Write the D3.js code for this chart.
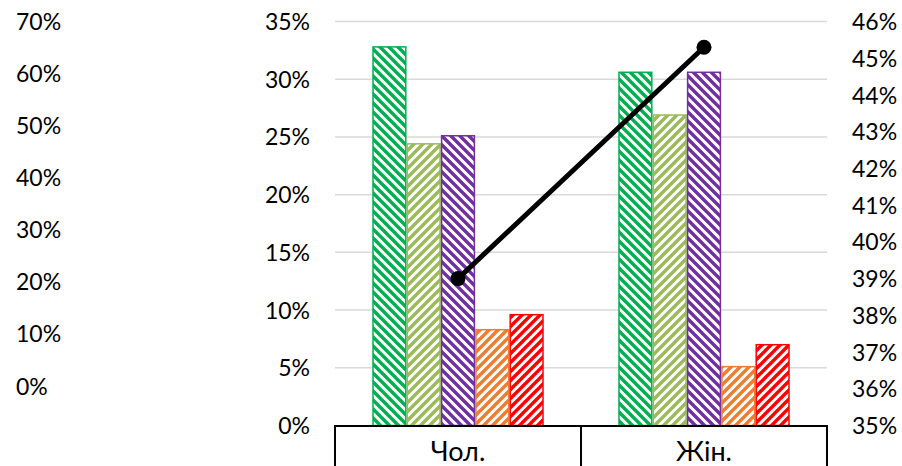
<!DOCTYPE html>
<html>
<head>
<meta charset="utf-8">
<script src="https://cdn.jsdelivr.net/npm/d3@7"></script>
<style>
  html, body { margin: 0; padding: 0; background: #ffffff; }
  svg { display: block; font-family: Lato, "Open Sans", sans-serif; }
</style>
</head>
<body>
<svg id="chart" width="902" height="466"></svg>
<script>
// ---- data ----
const categories = ["Чол.", "Жін."];
const seriesNames = ["s1", "s2", "s3", "s4", "s5"];
const series1 = [32.8, 30.6];
const series2 = [24.4, 26.9];
const series3 = [25.1, 30.6];
const series4 = [8.3, 5.1];
const series5 = [9.6, 7.0];
const lineValues = [39.0, 45.3];
const leftTicks = [0, 10, 20, 30, 40, 50, 60, 70];
const midTicks = [0, 5, 10, 15, 20, 25, 30, 35];
const rightTicks = [35, 36, 37, 38, 39, 40, 41, 42, 43, 44, 45, 46];

const seriesValues = [series1, series2, series3, series4, series5];
const seriesColors = ["#00b050", "#9bbb59", "#7030a0", "#ed7d31", "#ff0000"];
const seriesDir = ["down", "up", "down", "up", "up"];

const svg = d3.select("#chart");
const plotLeft = 335, plotRight = 827, plotTop = 21.5, plotBottom = 425.5;

// scales
const x = d3.scaleBand().domain(categories).range([plotLeft, plotRight]).paddingInner(0).paddingOuter(0);
const xs = d3.scaleBand().domain(seriesNames).range([0, x.bandwidth()]).paddingInner(0).paddingOuter(1.086);
const yMid = d3.scaleLinear().domain([0, 35]).range([plotBottom, plotTop]);
const yRight = d3.scaleLinear().domain([35, 46]).range([plotBottom, plotTop]);
const yLeft = d3.scaleLinear().domain([0, 70]).range([386, 21]);

// patterns
const P = 9;
const defs = svg.append("defs");
seriesNames.forEach((s, i) => {
  const p = defs.append("pattern")
    .attr("id", "pat-" + s)
    .attr("patternUnits", "userSpaceOnUse")
    .attr("width", P).attr("height", P);
  p.append("rect").attr("width", P).attr("height", P).attr("fill", "#fff");
  const d = seriesDir[i] === "down"
    ? `M0,0 L${P},${P} M${-P/2},${P/2} L${P/2},${1.5*P} M${P/2},${-P/2} L${1.5*P},${P/2}`
    : `M0,${P} L${P},0 M${-P/2},${P/2} L${P/2},${-P/2} M${P/2},${1.5*P} L${1.5*P},${P/2}`;
  p.append("path").attr("d", d)
    .attr("stroke", seriesColors[i]).attr("stroke-width", 3.4)
    .attr("stroke-linecap", "square");
});

// gridlines
svg.append("g").selectAll("line")
  .data(midTicks.filter(t => t > 0))
  .join("line")
  .attr("x1", plotLeft).attr("x2", plotRight)
  .attr("y1", d => yMid(d)).attr("y2", d => yMid(d))
  .attr("stroke", "#d9d9d9").attr("stroke-width", 1.5);

// bars
const barData = [];
categories.forEach((c, ci) => {
  seriesNames.forEach((s, si) => {
    barData.push({ c, s, si, v: seriesValues[si][ci] });
  });
});
svg.append("g").selectAll("rect")
  .data(barData)
  .join("rect")
  .attr("x", d => x(d.c) + xs(d.s) + 0.75)
  .attr("width", xs.bandwidth() - 1.5)
  .attr("y", d => yMid(d.v))
  .attr("height", d => yMid(0) - yMid(d.v))
  .attr("fill", d => "url(#pat-" + d.s + ")")
  .attr("stroke", d => seriesColors[d.si])
  .attr("stroke-width", 1.5);

// category box
const box = svg.append("g").attr("stroke", "#000").attr("stroke-width", 2).attr("fill", "none");
box.append("line").attr("x1", plotLeft).attr("x2", plotRight).attr("y1", plotBottom + 0.5).attr("y2", plotBottom + 0.5);
[plotLeft, x(categories[1]), plotRight].forEach(xx => {
  box.append("line").attr("x1", xx).attr("x2", xx).attr("y1", plotBottom - 0.5).attr("y2", 475);
});
svg.append("g").selectAll("text")
  .data(categories)
  .join("text")
  .attr("x", d => x(d) + x.bandwidth() / 2)
  .attr("y", 461)
  .attr("text-anchor", "middle")
  .attr("font-size", 27)
  .attr("fill", "#000")
  .text(d => d);

// line series
const lineGen = d3.line()
  .x((d, i) => x(categories[i]) + x.bandwidth() / 2)
  .y(d => yRight(d));
svg.append("path")
  .datum(lineValues)
  .attr("d", lineGen)
  .attr("fill", "none")
  .attr("stroke", "#000")
  .attr("stroke-width", 5)
  .attr("stroke-linecap", "round");
svg.append("g").selectAll("circle")
  .data(lineValues)
  .join("circle")
  .attr("cx", (d, i) => x(categories[i]) + x.bandwidth() / 2)
  .attr("cy", d => yRight(d))
  .attr("r", 7.5)
  .attr("fill", "#000");

// axes
const fmt = d => d + "%";
const midAxis = svg.append("g").attr("transform", "translate(310,0)")
  .call(d3.axisLeft(yMid).tickValues(midTicks).tickFormat(fmt).tickSize(0).tickPadding(0));
const rightAxis = svg.append("g").attr("transform", "translate(852,0)")
  .call(d3.axisRight(yRight).tickValues(rightTicks).tickFormat(fmt).tickSize(0).tickPadding(0));
const leftAxis = svg.append("g").attr("transform", "translate(16,0)")
  .call(d3.axisRight(yLeft).tickValues(leftTicks).tickFormat(fmt).tickSize(0).tickPadding(0));
[midAxis, rightAxis, leftAxis].forEach(a => {
  a.select(".domain").remove();
  a.selectAll("text")
    .attr("font-family", "Lato, 'Open Sans', sans-serif")
    .attr("font-size", 23)
    .attr("fill", "#000")
    .attr("dy", "0.35em");
});
</script>
</body>
</html>
